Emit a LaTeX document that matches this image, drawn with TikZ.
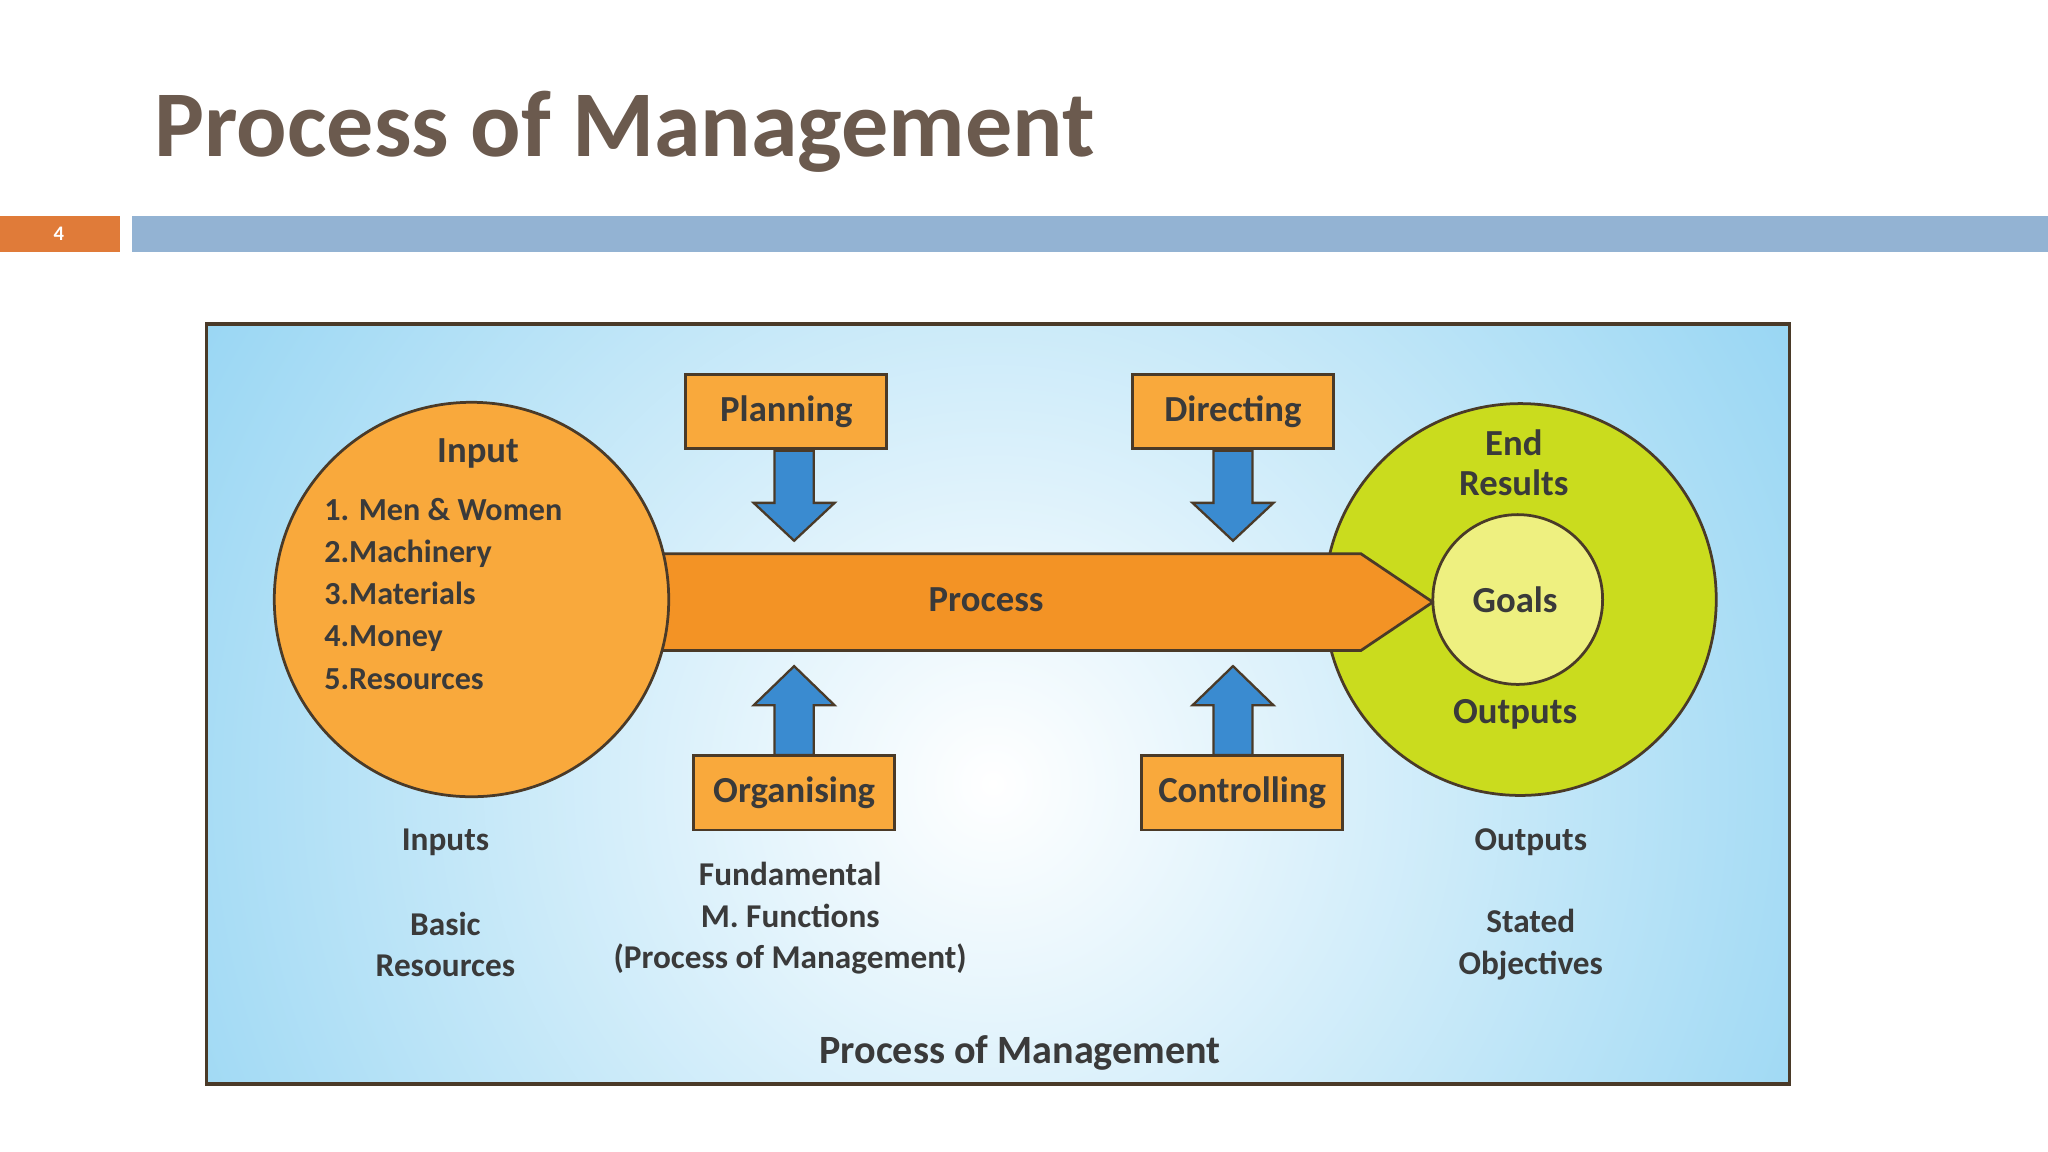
\documentclass[tikz,border=0pt]{standalone}
\usepackage{fontspec}
\setmainfont{Carlito}
\usetikzlibrary{calc}
\definecolor{titc}{HTML}{6B5A4E}
\definecolor{orbar}{HTML}{E07B39}
\definecolor{blbar}{HTML}{93B3D3}
\definecolor{skyb}{HTML}{8ED2F2}
\definecolor{orl}{HTML}{F9A93C}
\definecolor{ord}{HTML}{F39325}
\definecolor{ygr}{HTML}{CADC1E}
\definecolor{ylt}{HTML}{EEF080}
\definecolor{arb}{HTML}{3A8BD0}
\definecolor{txt}{HTML}{3A3A3A}
\definecolor{edge}{HTML}{4A3A28}
\tikzset{
  fbox/.style={draw=edge,line width=1.2pt,fill=orl,minimum width=3.08cm,minimum height=1.14cm,font=\fontsize{16}{17}\selectfont\bfseries,text=txt},
  lbl/.style={font=\fontsize{14.5}{18.2}\selectfont\bfseries,text=txt,align=center},
  blbl/.style={font=\fontsize{16}{17.5}\selectfont\bfseries,text=txt,align=center},
  barrow/.style={draw=edge,line width=1pt,fill=arb},
}
\begin{document}
\begin{tikzpicture}[x=0.02cm,y=-0.02cm]
\useasboundingbox (0,0) rectangle (1568,882);
\fill[white] (0,0) rectangle (1568,882);
\node[anchor=base west,inner sep=0,text=titc,font=\fontsize{41}{45}\selectfont\bfseries] (title) at (118,120) {Process of Management};
\fill[orbar] (0,165) rectangle (92,193);
\node[text=white,font=\fontsize{9}{10}\selectfont\bfseries] (num) at (45,179) {4};
\fill[blbar] (101,165) rectangle (1568,193);
% frame
\begin{scope}
\clip (158,248) rectangle (1370,830);
\shade[inner color=white,outer color=skyb] (760,600) circle[radius=780];
\end{scope}
\draw[edge,line width=1.5pt] (158,248) rectangle (1370,830);
% right circle
\draw[edge,line width=1.2pt,fill=ygr] (1164,459) circle[radius=150];
% process arrow
\draw[edge,line width=1.2pt,fill=ord] (500,424) -- (1042,424) -- (1097,461) -- (1042,498) -- (500,498) -- cycle;
\node[blbl] (proc) at (755,459) {Process};
% input circle
\draw[edge,line width=1.2pt,fill=orl] (361,459) circle[radius=151];
\node[blbl] (inp) at (366,347) {Input};
\node[lbl,anchor=north west,align=left,font=\fontsize{14}{18.4}\selectfont\bfseries,inner sep=0] (list) at (248,381) {1. Men \& Women\\2.Machinery\\3.Materials\\4.Money\\5.Resources};
\draw[edge,line width=1.2pt,fill=ylt] (1162,459) circle[radius=65];
\node[blbl] (end) at (1159,354) {End\\Results};
\node[blbl] (goals) at (1160,459) {Goals};
\node[blbl] (outs) at (1160,547) {Outputs};
% boxes
\node[fbox] (plan) at (602,315) {Planning};
\node[fbox] (dir) at (944,315) {Directing};
\node[fbox] (org) at (608,607) {Organising};
\node[fbox] (ctrl) at (951,607) {Controlling};
% blue arrows
\foreach \x in {608,944}{
  \draw[barrow] (\x-15,345) -- (\x+15,345) -- (\x+15,385) -- (\x+31,385) -- (\x,414) -- (\x-31,385) -- (\x-15,385) -- cycle;
  \draw[barrow] (\x-15,578) -- (\x+15,578) -- (\x+15,540) -- (\x+31,540) -- (\x,510) -- (\x-31,540) -- (\x-15,540) -- cycle;
}
% bottom labels
\node[lbl] (inps) at (341,645) {Inputs};
\node[lbl] (basic) at (341,723) {Basic\\Resources};
\node[lbl] (fund) at (605,703) {Fundamental\\M. Functions\\(Process of Management)};
\node[lbl] (outps) at (1172,645) {Outputs};
\node[lbl] (stated) at (1172,723) {Stated\\Objectives};
\node[lbl,font=\fontsize{17.5}{19}\selectfont\bfseries] (cap) at (781,806) {Process of Management};
\end{tikzpicture}
\end{document}
